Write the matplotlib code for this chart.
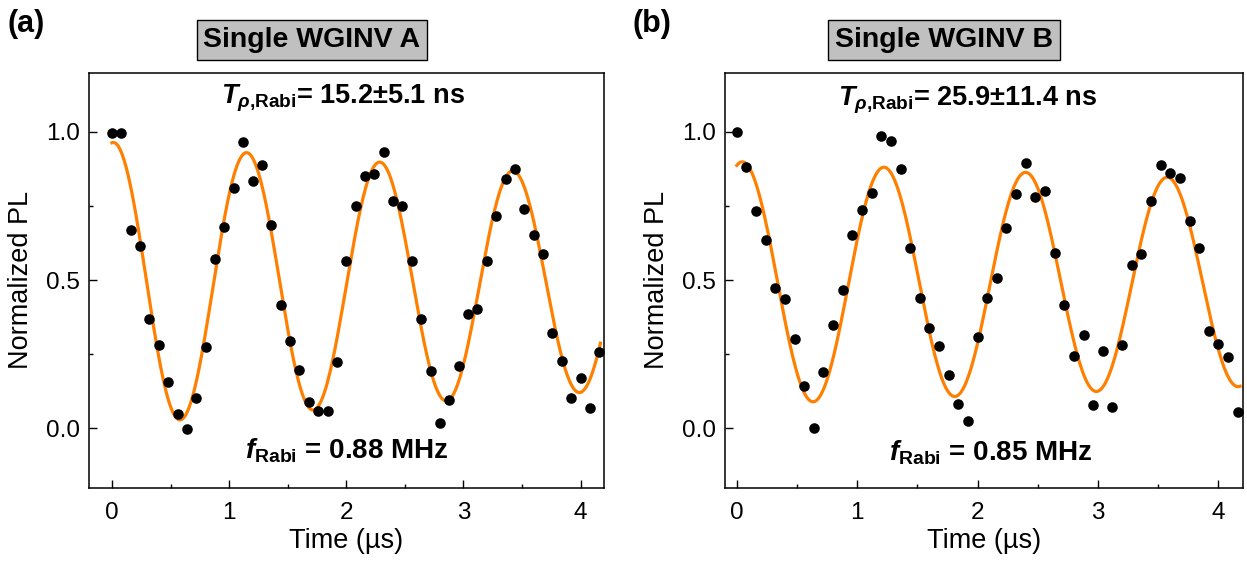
import numpy as np
import matplotlib
matplotlib.use("Agg")
import matplotlib.pyplot as plt
from matplotlib.ticker import MultipleLocator, FormatStrFormatter

plt.rcParams['font.family'] = ['Liberation Sans', 'DejaVu Sans']
plt.rcParams['mathtext.fontset'] = 'custom'
plt.rcParams['mathtext.rm'] = 'Liberation Sans:bold'
plt.rcParams['mathtext.it'] = 'Liberation Sans:bold:italic'
plt.rcParams['mathtext.bf'] = 'Liberation Sans:bold'

# Rabi pulse durations (µs)
time_us = [0.00, 0.08, 0.16, 0.24, 0.32, 0.40, 0.48, 0.56, 0.64, 0.72,
           0.80, 0.88, 0.96, 1.04, 1.12, 1.20, 1.28, 1.36, 1.44, 1.52,
           1.60, 1.68, 1.76, 1.84, 1.92, 2.00, 2.08, 2.16, 2.24, 2.32,
           2.40, 2.48, 2.56, 2.64, 2.72, 2.80, 2.88, 2.96, 3.04, 3.12,
           3.20, 3.28, 3.36, 3.44, 3.52, 3.60, 3.68, 3.76, 3.84, 3.92,
           4.00, 4.08, 4.16]

# Normalized PL, emitter A
pl_a = [0.995, 0.998, 0.671, 0.615, 0.369, 0.281, 0.158, 0.047, -0.003, 0.101,
        0.275, 0.571, 0.681, 0.811, 0.966, 0.836, 0.887, 0.686, 0.416, 0.296,
        0.198, 0.090, 0.058, 0.058, 0.224, 0.565, 0.750, 0.851, 0.857, 0.933,
        0.768, 0.750, 0.566, 0.370, 0.194, 0.019, 0.097, 0.212, 0.386, 0.403,
        0.565, 0.716, 0.841, 0.875, 0.739, 0.651, 0.587, 0.322, 0.227, 0.104,
        0.171, 0.069, 0.258]

# Normalized PL, emitter B
pl_b = [1.000, 0.882, 0.734, 0.637, 0.475, 0.437, 0.302, 0.144, 0.000, 0.190,
        0.349, 0.467, 0.654, 0.736, 0.795, 0.988, 0.969, 0.874, 0.607, 0.440,
        0.339, 0.278, 0.179, 0.084, 0.026, 0.310, 0.440, 0.506, 0.677, 0.790,
        0.895, 0.781, 0.802, 0.591, 0.418, 0.243, 0.316, 0.079, 0.261, 0.073,
        0.282, 0.550, 0.590, 0.766, 0.888, 0.862, 0.844, 0.701, 0.607, 0.327,
        0.284, 0.241, 0.054]

# Damped-cosine fit parameters: offset, amplitude, f_Rabi (MHz), decay (µs), phase (rad)
fit_a = [0.488, 0.477, 0.88, 15.2, -0.08]
fit_b = [0.49, 0.41, 0.85, 25.9, -0.25]

titles = ["Single WGINV A", "Single WGINV B"]
panel_tags = ["(a)", "(b)"]
decay_labels = [r"$T_{\rho{,}\mathrm{Rabi}}$= 15.2±5.1 ns", r"$T_{\rho{,}\mathrm{Rabi}}$= 25.9±11.4 ns"]
freq_labels = [r"$f_{\mathrm{Rabi}}$ = 0.88 MHz", r"$f_{\mathrm{Rabi}}$ = 0.85 MHz"]


def rabi(t, p):
    c, a, f, tau, phi = p
    return c + a * np.exp(-t / tau) * np.cos(2 * np.pi * f * t + phi)


W, H = 1247, 561
fig = plt.figure(figsize=(W / 100, H / 100), dpi=100)

axes_px = [(88.5, 604.0), (724.7, 1242.5)]
top_px, bot_px = 72.7, 487.7
xlims = [(-0.2, 4.2), (-0.1, 4.2)]
fits = [fit_a, fit_b]
data = [pl_a, pl_b]
curve_end = [4.17, 4.18]

title_x = [312, 944]
tag_x = [26, 652]
decay_pos = [(343, 98), (968, 100)]
freq_pos = [(347, 451), (991, 453)]

for i in range(2):
    l, r = axes_px[i]
    ax = fig.add_axes([l / W, 1 - bot_px / H, (r - l) / W, (bot_px - top_px) / H])
    tt = np.linspace(0, curve_end[i], 600)
    ax.plot(tt, rabi(tt, fits[i]), color='#ff7f00', lw=2.3, zorder=2)
    ax.plot(time_us, data[i], 'o', color='black', ms=7.6, mec='none', zorder=3)

    ax.set_xlim(*xlims[i])
    ax.set_ylim(-0.2, 1.2)
    ax.xaxis.set_major_locator(MultipleLocator(1))
    ax.xaxis.set_minor_locator(MultipleLocator(0.5))
    ax.yaxis.set_major_locator(MultipleLocator(0.5))
    ax.yaxis.set_minor_locator(MultipleLocator(0.25))
    ax.tick_params(which='both', direction='in', top=False, right=False, width=1.0)
    ax.tick_params(which='major', length=5.8, labelsize=17.5)
    ax.tick_params(axis='x', which='major', pad=10)
    ax.tick_params(axis='y', which='major', pad=6)
    ax.tick_params(which='minor', length=2.8)
    ax.yaxis.set_major_formatter(FormatStrFormatter('%.1f'))
    for s in ax.spines.values():
        s.set_linewidth(1.1)

    ax.set_xlabel("Time (µs)", fontsize=19.5, labelpad=3)
    ax.set_ylabel("Normalized PL", fontsize=19.5, labelpad=9)

    fig.text(title_x[i] / W, 1 - 40 / H, titles[i], ha='center', va='center',
             fontsize=20.5, fontweight='bold',
             bbox=dict(boxstyle='square,pad=0.24', fc='#c0c0c0', ec='black', lw=1.0))
    fig.text(tag_x[i] / W, 1 - 24 / H, panel_tags[i], ha='center', va='center',
             fontsize=22, fontweight='bold')
    fig.text(decay_pos[i][0] / W, 1 - decay_pos[i][1] / H, decay_labels[i],
             ha='center', va='center', fontsize=19.5, fontweight='bold')
    fig.text(freq_pos[i][0] / W, 1 - freq_pos[i][1] / H, freq_labels[i],
             ha='center', va='center', fontsize=20, fontweight='bold')

fig.savefig("out.png", dpi=100)
